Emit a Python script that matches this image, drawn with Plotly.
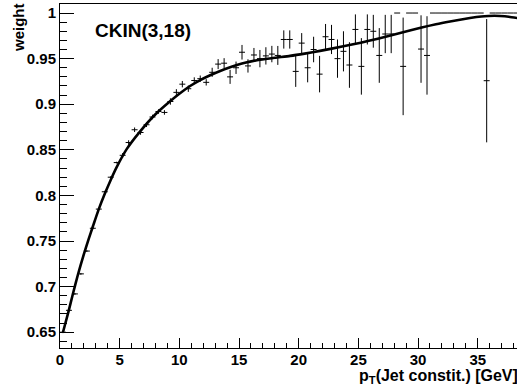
import plotly.graph_objects as go

# Binned weight vs constituent pT (bin width 0.5 GeV)
bin_centers = [
    0.25, 0.75, 1.25, 1.75, 2.25, 2.75, 3.25, 3.75, 4.25, 4.75,
    5.25, 5.75, 6.25, 6.75, 7.25, 7.75, 8.25, 8.75, 9.25, 9.75,
    10.25, 10.75, 11.25, 11.75, 12.25, 12.75, 13.25, 13.75, 14.25, 14.75,
    15.25, 15.75, 16.25, 16.75, 17.25, 17.75, 18.25, 18.75, 19.25, 19.75,
    20.25, 20.75, 21.25, 21.75, 22.25, 22.75, 23.25, 23.75, 24.25, 24.75,
    25.25, 25.75, 26.25, 26.75, 27.25, 27.75, 28.25, 28.75, 29.25, 29.75,
    30.25, 30.75, 31.25, 31.75, 32.25, 32.75, 33.25, 33.75, 34.25, 34.75,
    35.25, 35.75, 36.25, 36.75, 37.25, 37.75, 38.25,
]
weights = [
    0.650, 0.674, 0.692, 0.714, 0.739, 0.764, 0.785, 0.804, 0.820, 0.836,
    0.844, 0.858, 0.872, 0.869, 0.8775, 0.886, 0.892, 0.891, 0.903, 0.913,
    0.922, 0.917, 0.926, 0.928, 0.924, 0.935, 0.944, 0.945, 0.930, 0.940,
    0.957, 0.942, 0.954, 0.950, 0.953, 0.955, 0.9535, 0.971, 0.971, 0.936,
    0.967, 0.940, 0.960, 0.933, 0.974, 0.971, 0.950, 0.958, 0.943, 0.982,
    0.9415, 0.982, 0.980, 0.9535, 0.977, 0.977, 1.0, 0.9415, 1.0, 1.0,
    0.9605, 0.9535, 1.0, 1.0, 1.0, 1.0, 1.0, 1.0, 1.0, 1.0,
    1.0, 0.9258, 1.0, 1.0, 1.0, 1.0, 1.0,
]
weight_errors = [
    0.001, 0.001, 0.001, 0.001, 0.001, 0.001, 0.001, 0.001, 0.001, 0.001,
    0.0025, 0.0025, 0.0025, 0.0025, 0.0025, 0.0025, 0.0025, 0.0025, 0.0035, 0.0035,
    0.0035, 0.0035, 0.0035, 0.0035, 0.0035, 0.005, 0.0055, 0.0055, 0.0077, 0.0068,
    0.008, 0.0073, 0.0077, 0.0095, 0.0095, 0.009, 0.0104, 0.010, 0.010, 0.017,
    0.011, 0.016, 0.014, 0.020, 0.014, 0.016, 0.021, 0.022, 0.025, 0.0165,
    0.031, 0.0165, 0.018, 0.030, 0.021, 0.021, 0.0, 0.0535, 0.0, 0.0,
    0.037, 0.043, 0.0, 0.0, 0.0, 0.0, 0.0, 0.0, 0.0, 0.0,
    0.0, 0.0676, 0.0, 0.0, 0.0, 0.0, 0.0,
]
half_bin = [0.25] * len(bin_centers)

# Fitted weight function, sampled along pT
fit_pt = [0.25, 0.7, 1.1, 1.5, 1.94, 2.4, 2.78, 3.25, 3.76, 4.25, 4.75, 5.6, 6.7,
          8.0, 9.2, 10.0, 10.9, 11.75, 12.58, 13.42, 14.25, 15.5, 16.77, 18.0,
          19.28, 20.5, 21.79, 23.74, 25.2, 26.54, 28.5, 30.3, 31.5, 32.68, 34.35,
          35.3, 35.89, 36.4, 36.87, 37.6, 38.3]
fit_weight = [0.650, 0.672, 0.693, 0.713, 0.733, 0.752, 0.767, 0.785, 0.802, 0.817,
              0.831, 0.851, 0.870, 0.889, 0.903, 0.9115, 0.920, 0.9265, 0.9318,
              0.9365, 0.9405, 0.9455, 0.9488, 0.951, 0.953, 0.9555, 0.9585, 0.9635,
              0.9675, 0.9715, 0.978, 0.9842, 0.9878, 0.9908, 0.9945, 0.9962, 0.9968,
              0.997, 0.9968, 0.996, 0.9945]

tick_values = [0.65, 0.7, 0.75, 0.8, 0.85, 0.9, 0.95, 1.0]
tick_labels = ["0.65", "0.7", "0.75", "0.8", "0.85", "0.9", "0.95", "1"]

font_family = "Liberation Sans, Arial, Helvetica, sans-serif"

fig = go.Figure()

fig.add_trace(go.Scatter(
    x=bin_centers, y=weights, mode="markers",
    marker=dict(size=1, color="rgba(0,0,0,0)"),
    error_x=dict(type="data", array=half_bin, color="black", thickness=1, width=0),
    error_y=dict(type="data", array=weight_errors, color="black", thickness=1, width=0),
    showlegend=False, hoverinfo="x+y",
))

fig.add_trace(go.Scatter(
    x=fit_pt, y=fit_weight, mode="lines",
    line=dict(color="black", width=2.6, shape="spline", smoothing=0.6),
    showlegend=False,
))

fig.update_layout(
    width=517, height=390,
    margin=dict(l=60, r=0, t=4, b=42),
    paper_bgcolor="white", plot_bgcolor="white",
    font=dict(family=font_family, color="black"),
    xaxis=dict(
        range=[0, 38.29], showgrid=False, zeroline=False, automargin=False,
        showline=True, linecolor="black", linewidth=1, mirror=True,
        ticks="inside", ticklen=10, tickwidth=1, tickcolor="black",
        tick0=0, dtick=5, ticklabelstandoff=-2,
        minor=dict(ticks="inside", ticklen=5, dtick=1, tick0=0, tickcolor="black", showgrid=False),
        tickfont=dict(family=font_family, size=15, weight="bold"),
    ),
    yaxis=dict(
        range=[0.6327, 1.0099], showgrid=False, zeroline=False, automargin=False,
        showline=True, linecolor="black", linewidth=1,
        ticks="inside", ticklen=14, tickwidth=1, tickcolor="black",
        tickmode="array", tickvals=tick_values, ticktext=tick_labels,
        minor=dict(ticks="inside", ticklen=7, dtick=0.01, tick0=0.6, tickcolor="black", showgrid=False),
        tickfont=dict(family=font_family, size=15, weight="bold"),
    ),
    annotations=[
        dict(text="CKIN(3,18)", xref="paper", yref="paper", x=0.1816, y=1,
             yshift=-26, xanchor="center", yanchor="middle", showarrow=False,
             font=dict(family=font_family, size=19, weight="bold")),
        dict(text="p<sub>T</sub>(Jet constit.) [GeV]", xref="paper", yref="paper",
             x=1, y=0, xanchor="right", yanchor="middle", xshift=3, yshift=-28,
             showarrow=False, font=dict(family=font_family, size=16, weight="bold")),
        dict(text="weight", xref="paper", yref="paper", x=0, y=1, xshift=-42, yshift=-24,
             textangle=-90, xanchor="center", yanchor="middle", showarrow=False,
             font=dict(family=font_family, size=15, weight="bold")),
    ],
)

fig.write_html("out.html")
